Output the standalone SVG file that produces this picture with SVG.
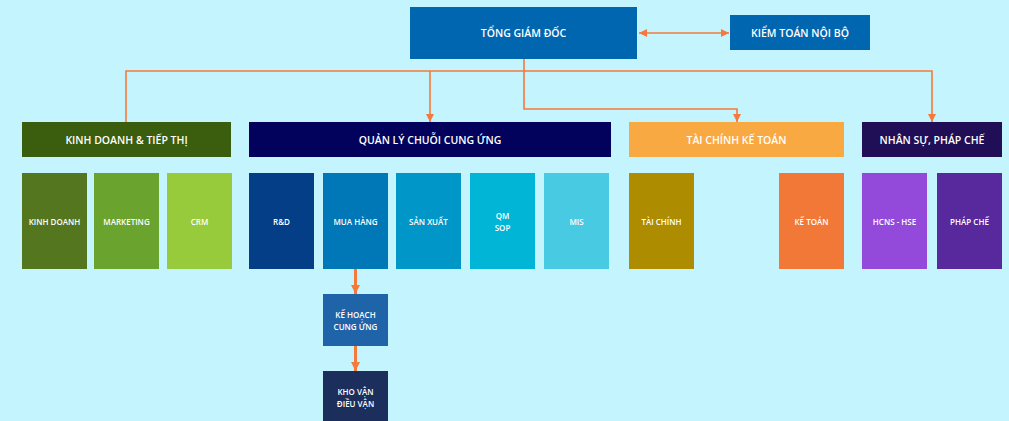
<svg xmlns="http://www.w3.org/2000/svg" width="1009" height="421" viewBox="0 0 1009 421">
  <defs>
    <marker id="tri" viewBox="0 0 10 10" refX="10" refY="5" markerWidth="8" markerHeight="8" markerUnits="userSpaceOnUse" orient="auto-start-reverse">
      <path d="M0,0 L10,5 L0,10 Z" fill="#F5793B"/>
    </marker>
    <marker id="tri2" viewBox="0 0 10 10" refX="10" refY="5" markerWidth="9" markerHeight="9" markerUnits="userSpaceOnUse" orient="auto">
      <path d="M0,0 L10,5 L0,10 Z" fill="#F5793B"/>
    </marker>
  </defs>
  <style>
    text { font-family: "Open Sans", "Noto Sans", "Liberation Sans", sans-serif; font-weight: 600; fill: #FFFFFF; text-anchor: middle; dominant-baseline: central; }
    .h { font-size: 10.5px; }
    .s { font-size: 8px; }
    .link { fill: none; stroke: #F5793B; stroke-width: 1.6; }
    .thick { fill: none; stroke: #F5793B; stroke-width: 3; }
  </style>

  <rect width="1009" height="421" fill="#C4F5FE"/>

  <!-- connectors -->
  <g id="connectors">
    <line class="link" x1="639" y1="33" x2="729" y2="33" marker-start="url(#tri)" marker-end="url(#tri)"/>
    <polyline class="link" points="126,122 126,71 932,71 932,122" marker-end="url(#tri)"/>
    <line class="link" x1="430" y1="71" x2="430" y2="122" marker-end="url(#tri)"/>
    <polyline class="link" points="524,59 524,109 737,109 737,122" marker-end="url(#tri)"/>
    <line class="thick" x1="355.5" y1="269" x2="355.5" y2="294" marker-end="url(#tri2)"/>
    <line class="thick" x1="355.5" y1="346" x2="355.5" y2="371" marker-end="url(#tri2)"/>
  </g>

  <!-- top level -->
  <g id="tong-giam-doc">
    <rect x="410" y="7" width="227" height="52" fill="#0066B0"/>
    <text class="h" x="523.5" y="33">TỔNG GIÁM ĐỐC</text>
  </g>
  <g id="kiem-toan">
    <rect x="730" y="15" width="140" height="35" fill="#0066B0"/>
    <text class="h" x="800" y="32.5">KIỂM TOÁN NỘI BỘ</text>
  </g>

  <!-- divisions -->
  <g id="kinh-doanh-tiep-thi">
    <rect x="22" y="122" width="209" height="35" fill="#3B5E0E"/>
    <text class="h" x="126.5" y="139.5">KINH DOANH &amp; TIẾP THỊ</text>
  </g>
  <g id="quan-ly-chuoi-cung-ung">
    <rect x="249" y="122" width="362" height="35" fill="#02025C"/>
    <text class="h" x="430" y="139.5">QUẢN LÝ CHUỖI CUNG ỨNG</text>
  </g>
  <g id="tai-chinh-ke-toan">
    <rect x="629" y="122" width="215" height="35" fill="#F9A942"/>
    <text class="h" x="736.5" y="139.5">TÀI CHÍNH KẾ TOÁN</text>
  </g>
  <g id="nhan-su-phap-che">
    <rect x="862" y="122" width="140" height="35" fill="#200E56"/>
    <text class="h" x="932" y="139.5">NHÂN SỰ, PHÁP CHẾ</text>
  </g>

  <!-- departments -->
  <g id="kinh-doanh">
    <rect x="22" y="173" width="65" height="96" fill="#54761E"/>
    <text class="s" x="54.5" y="221">KINH DOANH</text>
  </g>
  <g id="marketing">
    <rect x="94" y="173" width="65" height="96" fill="#6AA32E"/>
    <text class="s" x="126.5" y="221">MARKETING</text>
  </g>
  <g id="crm">
    <rect x="167" y="173" width="65" height="96" fill="#97CB3B"/>
    <text class="s" x="199.5" y="221">CRM</text>
  </g>
  <g id="rnd">
    <rect x="249" y="173" width="65" height="96" fill="#033E87"/>
    <text class="s" x="281.5" y="221">R&amp;D</text>
  </g>
  <g id="mua-hang">
    <rect x="323" y="173" width="65" height="96" fill="#0077B6"/>
    <text class="s" x="355.5" y="221">MUA HÀNG</text>
  </g>
  <g id="san-xuat">
    <rect x="396" y="173" width="65" height="96" fill="#0097C8"/>
    <text class="s" x="428.5" y="221">SẢN XUẤT</text>
  </g>
  <g id="qm-sop">
    <rect x="470" y="173" width="65" height="96" fill="#00B5D6"/>
    <text class="s" x="502.5" y="215">QM</text>
    <text class="s" x="502.5" y="227">SOP</text>
  </g>
  <g id="mis">
    <rect x="544" y="173" width="65" height="96" fill="#49CAE3"/>
    <text class="s" x="576.5" y="221">MIS</text>
  </g>
  <g id="tai-chinh">
    <rect x="629" y="173" width="65" height="96" fill="#AE8C00"/>
    <text class="s" x="661.5" y="221">TÀI CHÍNH</text>
  </g>
  <g id="ke-toan">
    <rect x="779" y="173" width="65" height="96" fill="#F27838"/>
    <text class="s" x="811.5" y="221">KẾ TOÁN</text>
  </g>
  <g id="hcns-hse">
    <rect x="862" y="173" width="65" height="96" fill="#9349D9"/>
    <text class="s" x="894.5" y="221">HCNS - HSE</text>
  </g>
  <g id="phap-che">
    <rect x="937" y="173" width="65" height="96" fill="#58299C"/>
    <text class="s" x="969.5" y="221">PHÁP CHẾ</text>
  </g>

  <!-- supply chain sub-units -->
  <g id="ke-hoach-cung-ung">
    <rect x="323" y="294" width="65" height="52" fill="#1F63A8"/>
    <text class="s" x="355.5" y="314">KẾ HOẠCH</text>
    <text class="s" x="355.5" y="326">CUNG ỨNG</text>
  </g>
  <g id="kho-van-dieu-van">
    <rect x="323" y="371" width="65" height="52" fill="#1C2E5C"/>
    <text class="s" x="355.5" y="391">KHO VẬN</text>
    <text class="s" x="355.5" y="403">ĐIỀU VẬN</text>
  </g>
</svg>
